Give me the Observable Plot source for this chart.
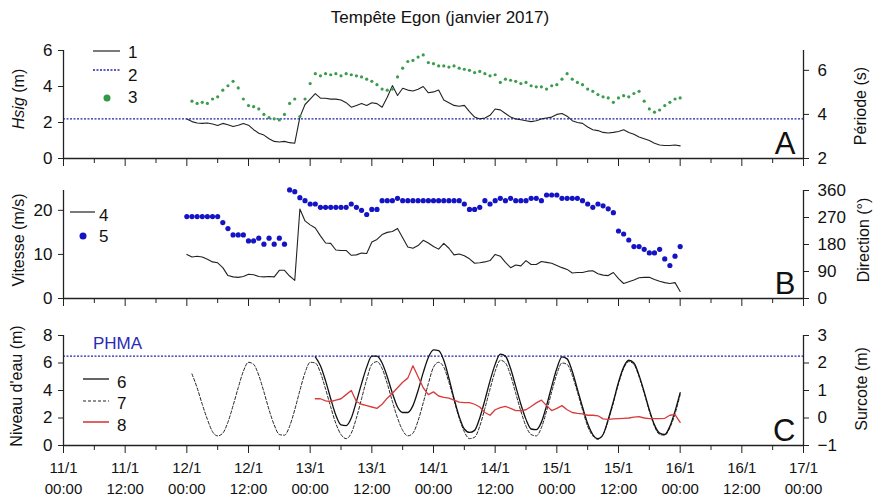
<!DOCTYPE html>
<html><head><meta charset="utf-8">
<script src="https://cdn.jsdelivr.net/npm/d3@7"></script>
<script src="https://cdn.jsdelivr.net/npm/@observablehq/plot@0.6"></script>
<style>
body{margin:0;background:#fff}
#chart{position:relative;width:876px;height:502px;font-family:"Liberation Sans",Arial,sans-serif;color:#111;overflow:hidden;background:#fff}
#chart svg{position:absolute;left:0}
#title{position:absolute;top:8px;left:0;width:880px;text-align:center;font-size:17px}
</style></head><body>
<div id="chart"><div id="title">Tempête Egon (janvier 2017)</div></div>
<script>
// ---------- DATA ----------
const T0 = Date.UTC(2017, 0, 11); // 11/1 00:00
const HOUR = 3600e3;
const majorTickHours = [0,12,24,36,48,60,72,84,96,108,120,132,144];
const minorTickHours = [6,18,30,42,54,66,78,90,102,114,126,138];
const tickDates = ["11/1","11/1","12/1","12/1","13/1","13/1","14/1","14/1","15/1","15/1","16/1","16/1","17/1"];
const tickTimes = ["00:00","12:00","00:00","12:00","00:00","12:00","00:00","12:00","00:00","12:00","00:00","12:00","00:00"];

// Panel A : Hsig (m), hourly from hour 24
const hsigStart = 24;
const hsig = [2.2,2.05,1.97,1.95,1.97,1.92,1.83,1.95,1.88,1.78,1.85,1.95,1.85,1.6,1.4,1.3,1.1,0.95,0.92,0.95,0.88,0.85,
  2.3,3.0,3.3,3.6,3.35,3.35,3.3,3.3,3.25,3.1,2.85,2.95,3.05,2.95,3.1,3.05,2.85,3.4,4.05,3.5,3.9,3.8,3.75,3.85,4.0,3.65,
  3.7,3.8,3.25,3.1,2.95,2.9,2.95,2.6,2.3,2.2,2.25,2.4,2.75,2.7,2.5,2.3,2.2,2.15,2.1,2.05,2.1,2.2,2.25,2.3,2.45,2.5,
  2.35,2.1,2.0,1.95,1.75,1.6,1.55,1.45,1.42,1.45,1.5,1.6,1.45,1.35,1.2,1.1,1.0,0.85,0.75,0.72,0.72,0.75,0.7];
const hsigThreshold = 2.2;
// Période (s), hourly from hour 25
const periodStart = 25;
const period = [4.6,4.5,4.55,4.5,4.7,4.8,5.1,5.3,5.5,5.2,4.7,4.4,4.35,4.25,4.0,3.85,3.8,3.75,4.0,4.5,4.7,3.9,4.7,5.4,
  5.85,5.75,5.85,5.8,5.85,5.75,5.85,5.8,5.75,5.7,5.6,5.5,5.35,5.15,5.1,5.15,5.7,6.1,6.4,6.45,6.6,6.7,6.35,6.3,6.2,6.2,
  6.15,6.2,6.1,6.05,6.0,5.9,5.95,5.85,5.75,5.8,5.45,5.6,5.55,5.5,5.4,5.45,5.3,5.25,5.25,5.15,5.3,5.35,5.6,5.85,5.6,
  5.45,5.35,5.15,5.05,4.9,4.8,4.75,4.55,4.75,4.85,4.8,4.95,5.05,4.6,4.25,4.1,4.2,4.4,4.55,4.7,4.75];

// Panel B : wind speed (m/s) and direction (°), hourly from hour 24
const windStart = 24;
const windSpeed = [10.0,9.4,9.6,9.4,8.9,8.3,8.1,7.0,5.2,4.9,4.8,5.0,5.5,5.4,5.0,4.9,5.0,4.9,6.4,6.4,5.1,4.1,
  20.3,17.6,16.7,16.0,14.2,12.6,12.5,11.0,10.9,10.9,9.8,9.9,10.3,10.2,12.8,13.4,14.5,15.0,15.2,15.9,13.8,11.7,11.4,
  12.0,13.2,12.6,11.8,11.2,12.5,11.4,9.9,10.1,9.7,9.0,8.0,8.1,8.3,8.6,10.0,9.6,8.2,7.0,7.6,7.4,8.6,7.7,7.7,8.4,8.2,
  8.0,7.5,7.0,6.6,5.8,5.9,5.9,6.2,6.3,5.6,5.3,5.2,5.9,4.5,3.4,3.8,4.2,4.7,4.8,4.8,4.3,3.9,3.6,3.4,3.6,1.6];
const windDir = [273,273,273,273,273,273,273,253,233,212,212,212,192,192,201,181,201,181,201,181,
  362,356,336,326,315,315,304,304,304,304,304,304,315,304,294,280,297,297,326,326,326,334,
  326,326,326,326,326,326,326,326,326,326,326,326,315,297,297,304,326,315,326,334,326,334,326,326,326,334,334,326,
  345,345,345,334,334,334,334,326,315,304,315,309,299,286,225,215,195,173,173,164,152,152,164,132,110,141,173];

// Panel C : water level (m), predicted from hour 25, observed & surge from hour 49
const predStart = 25;
const tidePredicted = [5.2,4.2,3.0,1.9,1.0,0.7,0.9,1.7,2.9,4.2,5.4,6.05,5.9,5.1,3.9,2.6,1.5,0.8,0.75,1.4,2.6,4.0,5.3,
  6.05,6.0,5.3,4.1,2.8,1.6,0.8,0.5,0.9,2.0,3.4,4.8,5.9,6.1,5.6,4.5,3.2,2.0,1.1,0.7,0.9,1.8,3.1,4.5,5.7,6.05,5.7,4.6,
  3.3,2.0,1.0,0.5,0.6,1.4,2.7,4.1,5.4,6.2,6.0,5.1,3.8,2.5,1.4,0.8,0.7,1.3,2.5,3.9,5.2,6.0,5.9,5.1,3.9,2.6,1.4,0.7,
  0.45,0.8,1.8,3.1,4.5,5.6,6.1,5.9,5.0,3.8,2.5,1.4,0.8,0.75,1.3,2.3,3.7];
const obsStart = 49;
const tideObserved = [6.45,5.8,4.7,3.4,2.2,1.5,1.45,2.0,3.2,4.5,5.7,6.5,6.5,6.0,5.0,3.8,2.8,2.4,2.4,2.9,4.0,5.3,6.4,
  6.95,6.9,6.2,4.9,3.4,2.1,1.2,0.95,1.1,2.0,3.3,4.7,5.9,6.65,6.5,5.6,4.3,3.0,1.9,1.2,1.15,1.7,2.9,4.3,5.6,6.45,6.3,
  5.4,4.1,2.8,1.6,0.8,0.5,0.8,1.9,3.2,4.6,5.7,6.2,6.0,5.1,3.9,2.6,1.5,0.9,0.8,1.4,2.5,3.85];
const surge = [0.7,0.7,0.62,0.6,0.65,0.7,0.85,1.0,0.6,0.5,0.45,0.4,0.35,0.5,0.72,0.9,1.1,1.3,1.45,1.9,1.5,1.1,0.85,
  0.95,0.8,0.75,0.72,0.65,0.58,0.56,0.56,0.5,0.4,0.2,0.1,0.3,0.38,0.42,0.35,0.27,0.27,0.3,0.42,0.55,0.65,0.45,0.27,
  0.35,0.45,0.3,0.2,0.17,0.15,0.1,0.1,0.08,-0.03,-0.05,-0.03,-0.02,-0.01,0.0,0.03,0.05,0.0,-0.02,-0.02,-0.02,-0.01,
  0.1,0.12,-0.16];
const phma = 6.5;

// ---------- HELPERS ----------
const hourDate = h => new Date(T0 + h * HOUR);
const rows = (start, vals) => vals.map((v, i) => ({t: hourDate(start + i), v}));
const xDomain = [hourDate(0), hourDate(144)];
const majorDates = majorTickHours.map(hourDate);
const minorDates = minorTickHours.map(hourDate);
const labelIndex = d => Math.round((d - T0) / HOUR / 12);
const blank = () => "";

const FONT = '"Liberation Sans", Arial, sans-serif';
const AX = "#222";
const BLUE_LINE = "#2323b0";
const common = {
  width: 876, marginLeft: 63, marginRight: 73, marginTop: 10,
  style: {background: "transparent", color: "#111", fontFamily: FONT, fontSize: "17px", overflow: "visible"}
};
const chart = document.getElementById("chart");
function place(svg, top) { svg.style.top = top + "px"; chart.appendChild(svg); }

function xAxisMarks(withLabels) {
  const m = [
    Plot.ruleX([xDomain[0]], {stroke: AX, strokeWidth: 1.3}),
    Plot.axisX(minorDates, {tickSize: 5, tickFormat: blank, stroke: AX, label: null}),
    Plot.axisX(majorDates, {tickSize: 8, stroke: AX, tickPadding: 9, fontSize: 15, label: null,
      tickFormat: withLabels ? (d => tickDates[labelIndex(d)]) : blank})
  ];
  if (withLabels) m.push(Plot.axisX(majorDates, {tickSize: 0, tickPadding: 38, fontSize: 15, label: null,
      tickFormat: d => tickTimes[labelIndex(d)]}));
  return m;
}
function letter(s) {
  return Plot.text([s], {frameAnchor: "bottom-right", dx: -8, dy: -5, fontSize: 31, fill: "#111"});
}

// ---------- PANEL A ----------
place(Plot.plot({...common, height: 130, marginBottom: 12,
  x: {type: "utc", domain: xDomain},
  y: {domain: [0, 6]},
  marks: [
    Plot.ruleY([hsigThreshold], {stroke: BLUE_LINE, strokeDasharray: "2,1.5", strokeWidth: 1.1}),
    Plot.line(rows(hsigStart, hsig), {x: "t", y: "v", stroke: "#222", strokeWidth: 1.1}),
    Plot.ruleY([0], {stroke: AX, strokeWidth: 1.3}),
    Plot.axisY([0, 2, 4, 6], {tickSize: 5, tickPadding: 6, label: null, stroke: AX}),
    ...xAxisMarks(false),
    letter("A")
  ]}), 40);
place(Plot.plot({...common, height: 130, marginBottom: 12,
  x: {type: "utc", domain: xDomain, axis: null},
  y: {domain: [2, 6.9]},
  marks: [
    Plot.dot(rows(periodStart, period), {x: "t", y: "v", r: 1.6, fill: "#3a9c4c"}),
    Plot.ruleX([xDomain[1]], {stroke: AX, strokeWidth: 1.3}),
    Plot.axisY([2, 4, 6], {anchor: "right", tickSize: 5, tickPadding: 9, label: null, stroke: AX})
  ]}), 40);

// ---------- PANEL B ----------
place(Plot.plot({...common, height: 130, marginBottom: 12,
  x: {type: "utc", domain: xDomain},
  y: {domain: [0, 24.5]},
  marks: [
    Plot.line(rows(windStart, windSpeed), {x: "t", y: "v", stroke: "#222", strokeWidth: 1.1}),
    Plot.ruleY([0], {stroke: AX, strokeWidth: 1.3}),
    Plot.axisY([0, 10, 20], {tickSize: 5, tickPadding: 6, label: null, stroke: AX}),
    ...xAxisMarks(false),
    letter("B")
  ]}), 180);
place(Plot.plot({...common, height: 130, marginBottom: 12,
  x: {type: "utc", domain: xDomain, axis: null},
  y: {domain: [0, 360]},
  marks: [
    Plot.dot(rows(windStart, windDir), {x: "t", y: "v", r: 2.6, fill: "#1414c4"}),
    Plot.ruleX([xDomain[1]], {stroke: AX, strokeWidth: 1.3}),
    Plot.axisY([0, 90, 180, 270, 360], {anchor: "right", tickSize: 5, tickPadding: 9, label: null, stroke: AX})
  ]}), 180);

// ---------- PANEL C ----------
place(Plot.plot({...common, height: 177, marginBottom: 57,
  x: {type: "utc", domain: xDomain},
  y: {domain: [0, 8]},
  marks: [
    Plot.ruleY([phma], {stroke: BLUE_LINE, strokeDasharray: "2,1.5", strokeWidth: 1.1}),
    Plot.line(rows(predStart, tidePredicted), {x: "t", y: "v", stroke: "#222", strokeWidth: 1, strokeDasharray: "3,2", curve: "monotone-x"}),
    Plot.line(rows(obsStart, tideObserved), {x: "t", y: "v", stroke: "#111", strokeWidth: 1.3, curve: "monotone-x"}),
    Plot.ruleY([0], {stroke: AX, strokeWidth: 1.3}),
    Plot.axisY([0, 2, 4, 6, 8], {tickSize: 5, tickPadding: 6, label: null, stroke: AX}),
    ...xAxisMarks(true),
    letter("C")
  ]}), 325);
place(Plot.plot({...common, height: 177, marginBottom: 57,
  x: {type: "utc", domain: xDomain, axis: null},
  y: {domain: [-1, 3]},
  marks: [
    Plot.line(rows(obsStart, surge), {x: "t", y: "v", stroke: "#d93b3b", strokeWidth: 1.3}),
    Plot.ruleX([xDomain[1]], {stroke: AX, strokeWidth: 1.3}),
    Plot.axisY([-1, 0, 1, 2, 3], {anchor: "right", tickSize: 5, tickPadding: 9, label: null, stroke: AX})
  ]}), 325);

// ---------- TITLES & LEGENDS (overlay) ----------
const ov = d3.create("svg").attr("width", 876).attr("height", 502)
  .style("top", "0px").style("font-family", FONT).style("pointer-events", "none");
function vtitle(x, y, parts) {
  const t = ov.append("text").attr("transform", `translate(${x},${y}) rotate(-90)`)
    .attr("text-anchor", "middle").attr("dy", "0.35em").attr("font-size", 16).attr("fill", "#111");
  parts.forEach(p => t.append("tspan").text(p.text).attr("font-style", p.italic ? "italic" : null));
}
vtitle(18, 99, [{text: "Hsig", italic: true}, {text: " (m)"}]);
vtitle(18, 240, [{text: "Vitesse (m/s)"}]);
vtitle(16, 386, [{text: "Niveau d'eau (m)"}]);
vtitle(860, 106, [{text: "Période (s)"}]);
vtitle(863, 240, [{text: "Direction (°)"}]);
vtitle(861, 389, [{text: "Surcote (m)"}]);

function legLine(x1, x2, y, stroke, dash, w) {
  ov.append("line").attr("x1", x1).attr("x2", x2).attr("y1", y).attr("y2", y)
    .attr("stroke", stroke).attr("stroke-width", w || 1.2).attr("stroke-dasharray", dash || null);
}
function legText(x, y, s, fill, size) {
  ov.append("text").attr("x", x).attr("y", y).attr("dy", "0.35em").attr("font-size", size || 17)
    .attr("fill", fill || "#111").text(s);
}
function legDot(x, y, r, fill) { ov.append("circle").attr("cx", x).attr("cy", y).attr("r", r).attr("fill", fill); }
// A
legLine(93, 120, 51, "#222"); legText(128, 52, "1");
legLine(93, 120, 70, BLUE_LINE, "2,1.5", 1.3); legText(128, 75, "2");
legDot(107, 98, 3.5, "#2f9a43"); legText(128, 97, "3");
// B
legLine(70, 95, 212, "#222"); legText(99, 215, "4");
legDot(83, 236, 3.5, "#1414c4"); legText(99, 236, "5");
// C
legText(93, 343, "PHMA", "#2a2ab8", 17);
legLine(83, 109, 379, "#111", null, 1.3); legText(117, 382, "6");
legLine(83, 109, 401, "#222", "3,2"); legText(117, 403, "7");
legLine(83, 109, 422, "#d93b3b", null, 1.6); legText(117, 425, "8");
chart.appendChild(ov.node());
</script></body></html>
